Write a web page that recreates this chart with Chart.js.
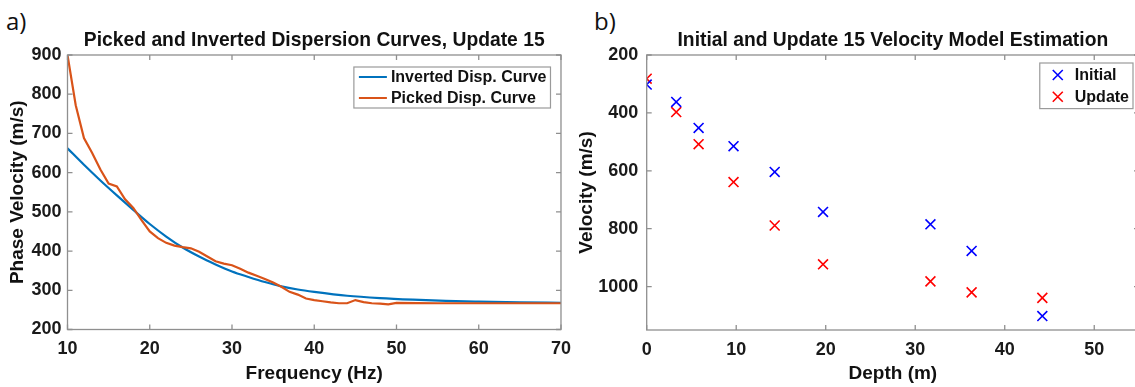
<!DOCTYPE html>
<html lang="en">
<head>
    <meta charset="UTF-8">
    <title>Dispersion Curves and Velocity Model</title>
    <script src="https://cdn.jsdelivr.net/npm/chart.js"></script>
    <style>
        html, body { margin: 0; padding: 0; background: #fff; overflow: hidden; width: 1135px; height: 387px; }
        .panel { position: absolute; top: 0; }
        .tag { position: absolute; top: 4px; font-family: "Open Sans", "Liberation Sans", sans-serif; font-size: 24px; color: #111; }
    </style>
</head>
<body>
    <div class="tag" style="left:6px">a)</div>
    <div class="tag" style="left:594px">b)</div>
    <canvas id="dispChart" class="panel" style="left:0" width="580" height="387"></canvas>
    <canvas id="velChart" class="panel" style="left:570px" width="620" height="387"></canvas>

    <script>
        // panel a) - dispersion curves
        const freqPicked = [10, 11, 12, 13, 14, 15, 16, 17, 18, 19, 20, 21, 22, 23, 24, 25, 26, 27, 28, 29,
                            30, 31, 32, 33, 34, 35, 36, 37, 38, 39, 40, 41, 42, 43, 44, 45, 46, 47, 48, 49,
                            50, 55, 60, 65, 70];
        const velPicked = [900, 772, 688, 650, 608, 572, 565, 532, 510, 479, 450, 433, 421, 414, 410, 407, 398, 386, 374, 368,
                           364, 355, 345, 337, 329, 320, 309, 296, 289, 279, 275, 272, 269, 267, 267, 275, 270, 267, 266, 264,
                           268, 267, 267, 267, 267];
        const freqInverted = [10, 12, 14, 16, 18, 20, 22, 24, 26, 28, 30, 32, 34, 36, 38, 40, 44, 48, 52, 56, 60, 65, 70];
        const velInverted = [662, 620, 580, 542, 505, 469, 437, 409, 386, 366, 348, 334, 321, 310, 302, 296, 286, 280, 276, 273, 271, 269, 268];
        const freqTicks = [10, 20, 30, 40, 50, 60, 70];
        const phaseVelTicks = [200, 300, 400, 500, 600, 700, 800, 900];

        // panel b) - velocity model
        const depths = [0, 3.3, 5.8, 9.7, 14.3, 19.7, 31.7, 36.3, 44.2];
        const velInitial = [302, 362, 452, 515, 604, 742, 785, 877, 1102];
        const velUpdate = [282, 397, 508, 639, 789, 923, 982, 1020, 1039];
        const depthTicks = [0, 10, 20, 30, 40, 50];
        const velTicks = [200, 400, 600, 800, 1000];

        const FONT = '"Liberation Sans", Arial, sans-serif';
        const TXT = '#1a1a1a';
        const AXIS = '#8f8f8f';
        const BLUE_LINE = '#0072BD';
        const ORANGE_LINE = '#D95319';

        const toPoints = (xs, ys) => xs.map((x, i) => ({ x: x, y: ys[i] }));

        // MATLAB-ish frame, inward ticks, title and boxed legend
        const matlabAxes = {
            id: 'matlabAxes',
            afterDraw(chart, args, opts) {
                const ctx = chart.ctx;
                const a = chart.chartArea;
                const xs = chart.scales.x, ys = chart.scales.y;
                ctx.save();
                ctx.strokeStyle = AXIS;
                ctx.lineWidth = 1.3;
                ctx.strokeRect(a.left, a.top, a.right - a.left, a.bottom - a.top);
                const tl = 5;
                ctx.beginPath();
                xs.ticks.forEach(t => {
                    const px = xs.getPixelForValue(t.value);
                    ctx.moveTo(px, a.bottom); ctx.lineTo(px, a.bottom - tl);
                    ctx.moveTo(px, a.top); ctx.lineTo(px, a.top + tl);
                });
                ys.ticks.forEach(t => {
                    const py = ys.getPixelForValue(t.value);
                    ctx.moveTo(a.left, py); ctx.lineTo(a.left + tl, py);
                    ctx.moveTo(a.right, py); ctx.lineTo(a.right - tl, py);
                });
                ctx.stroke();

                // title, centred on the plot box
                ctx.fillStyle = '#111';
                ctx.font = 'bold 19.3px ' + FONT;
                ctx.textAlign = 'center';
                ctx.textBaseline = 'middle';
                ctx.fillText(opts.title, (a.left + a.right) / 2, opts.titleY);

                // legend
                const lg = opts.legend;
                ctx.font = 'bold 16px ' + FONT;
                const tw = Math.max(...chart.data.datasets.map(d => ctx.measureText(d.label).width));
                const x2 = a.right - lg.inset;
                const x1 = x2 - (lg.textOffset + tw + 4);
                const y1 = a.top + lg.top;
                ctx.fillStyle = '#fff';
                ctx.fillRect(x1, y1, x2 - x1, lg.height);
                ctx.strokeStyle = '#9a9a9a';
                ctx.lineWidth = 1.2;
                ctx.strokeRect(x1, y1, x2 - x1, lg.height);
                ctx.textAlign = 'left';
                chart.data.datasets.forEach((d, i) => {
                    const cy = y1 + lg.rows[i];
                    if (lg.kind === 'line') {
                        ctx.strokeStyle = d.borderColor;
                        ctx.lineWidth = 2;
                        ctx.beginPath();
                        ctx.moveTo(x1 + 5, cy); ctx.lineTo(x1 + 33, cy);
                        ctx.stroke();
                    } else {
                        const mx = x1 + 18, r = 5;
                        ctx.strokeStyle = d.borderColor;
                        ctx.lineWidth = 1.6;
                        ctx.beginPath();
                        ctx.moveTo(mx - r, cy - r); ctx.lineTo(mx + r, cy + r);
                        ctx.moveTo(mx - r, cy + r); ctx.lineTo(mx + r, cy - r);
                        ctx.stroke();
                    }
                    ctx.fillStyle = '#111';
                    ctx.fillText(d.label, x1 + lg.textOffset, cy + 1);
                });
                ctx.restore();
            }
        };

        function tickFont() {
            return { family: FONT, size: 18, weight: 'bold' };
        }
        const plainNumber = v => String(v);

        // left panel
        new Chart(document.getElementById('dispChart'), {
            type: 'line',
            data: {
                datasets: [{
                    label: 'Inverted Disp. Curve',
                    data: toPoints(freqInverted, velInverted),
                    borderColor: BLUE_LINE,
                    borderWidth: 2.2,
                    pointRadius: 0,
                    cubicInterpolationMode: 'monotone',
                    order: 1
                }, {
                    label: 'Picked Disp. Curve',
                    data: toPoints(freqPicked, velPicked),
                    borderColor: ORANGE_LINE,
                    borderWidth: 2.2,
                    pointRadius: 0,
                    tension: 0,
                    order: 0
                }]
            },
            options: {
                responsive: false,
                animation: false,
                layout: { padding: { top: 55, right: 17.5, bottom: 0, left: 0 } },
                plugins: {
                    legend: { display: false },
                    tooltip: { enabled: false },
                    matlabAxes: {
                        title: 'Picked and Inverted Dispersion Curves, Update 15',
                        titleY: 41,
                        legend: { kind: 'line', inset: 10.5, top: 12, height: 41, rows: [10, 31], textOffset: 37 }
                    }
                },
                scales: {
                    x: {
                        type: 'linear', min: 10, max: 70,
                        afterBuildTicks: s => { s.ticks = freqTicks.map(v => ({ value: v })); },
                        afterFit: s => { s.height = 57.5; },
                        grid: { display: false, drawTicks: false },
                        border: { display: false },
                        ticks: { font: tickFont(), color: TXT, padding: 9, maxRotation: 0, callback: plainNumber },
                        title: { display: true, text: 'Frequency (Hz)', color: '#111',
                                 font: { family: FONT, size: 19, weight: 'bold' }, padding: { top: 0, bottom: 2 } }
                    },
                    y: {
                        min: 200, max: 900,
                        afterBuildTicks: s => { s.ticks = phaseVelTicks.map(v => ({ value: v })); },
                        afterFit: s => { s.width = 67.5; },
                        grid: { display: false, drawTicks: false },
                        border: { display: false },
                        ticks: { font: tickFont(), color: TXT, padding: 6, callback: plainNumber },
                        title: { display: true, text: 'Phase Velocity (m/s)', color: '#111',
                                 font: { family: FONT, size: 19, weight: 'bold' }, padding: { top: 6, bottom: 0 } }
                    }
                }
            },
            plugins: [matlabAxes]
        });

        // right panel
        new Chart(document.getElementById('velChart'), {
            type: 'scatter',
            data: {
                datasets: [{
                    label: 'Initial',
                    data: toPoints(depths, velInitial),
                    borderColor: '#0000FF',
                    backgroundColor: '#0000FF',
                    pointStyle: 'crossRot',
                    pointRadius: 7,
                    pointBorderWidth: 1.6
                }, {
                    label: 'Update',
                    data: toPoints(depths, velUpdate),
                    borderColor: '#FF0000',
                    backgroundColor: '#FF0000',
                    pointStyle: 'crossRot',
                    pointRadius: 7,
                    pointBorderWidth: 1.6
                }]
            },
            options: {
                responsive: false,
                animation: false,
                layout: { padding: { top: 55, right: 51, bottom: 0, left: 0 } },
                plugins: {
                    legend: { display: false },
                    tooltip: { enabled: false },
                    matlabAxes: {
                        title: 'Initial and Update 15 Velocity Model Estimation',
                        titleY: 41,
                        legend: { kind: 'marker', inset: 6, top: 8, height: 45.6, rows: [12, 33.7], textOffset: 35 }
                    }
                },
                scales: {
                    x: {
                        type: 'linear', min: 0, max: 55,
                        afterBuildTicks: s => { s.ticks = depthTicks.map(v => ({ value: v })); },
                        afterFit: s => { s.height = 57; },
                        grid: { display: false, drawTicks: false },
                        border: { display: false },
                        ticks: { font: tickFont(), color: TXT, padding: 9, maxRotation: 0, callback: plainNumber },
                        title: { display: true, text: 'Depth (m)', color: '#111',
                                 font: { family: FONT, size: 19, weight: 'bold' }, padding: { top: 0, bottom: 2 } }
                    },
                    y: {
                        min: 200, max: 1150, reverse: true,
                        afterBuildTicks: s => { s.ticks = velTicks.map(v => ({ value: v })); },
                        afterFit: s => { s.width = 76.7; },
                        grid: { display: false, drawTicks: false },
                        border: { display: false },
                        ticks: { font: tickFont(), color: TXT, padding: 8.5, callback: plainNumber },
                        title: { display: true, text: 'Velocity (m/s)', color: '#111',
                                 font: { family: FONT, size: 19, weight: 'bold' }, padding: { top: 5.5, bottom: 0 } }
                    }
                }
            },
            plugins: [matlabAxes]
        });
    </script>
</body>
</html>
